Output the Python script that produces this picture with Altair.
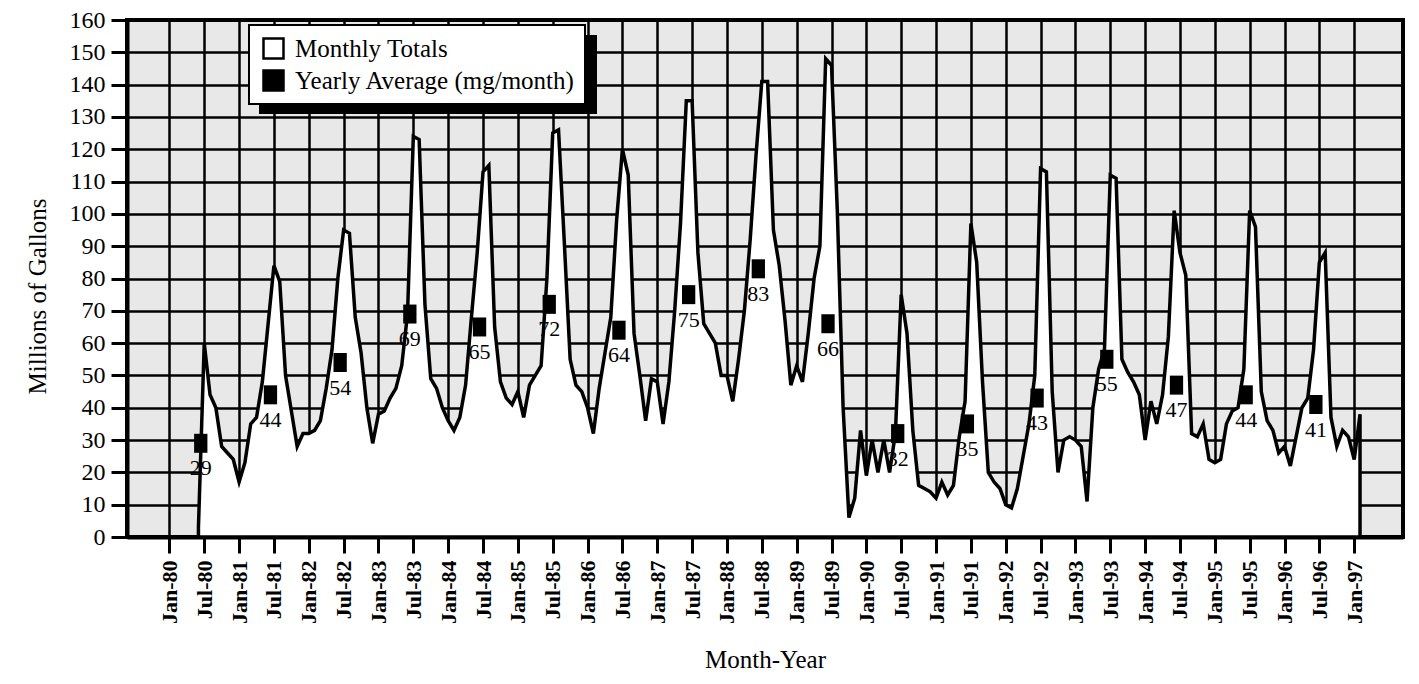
import altair as alt
import pandas as pd

FONT = "Liberation Serif"

series_names = ["Monthly Totals", "Yearly Average (mg/month)"]

# month index: Jan-80 = 0 ; monthly totals start in Jun-80
first_month = 5
monthly_1980 = [3, 60, 44, 40, 28, 26, 24]                       # Jun-Dec
monthly_1981 = [17, 23, 35, 37, 48, 66, 84, 79, 50, 39, 28, 32]
monthly_1982 = [32, 33, 36, 46, 58, 80, 95, 94, 68, 57, 40, 29]
monthly_1983 = [38, 39, 43, 46, 53, 69, 124, 123, 72, 49, 46, 40]
monthly_1984 = [36, 33, 37, 47, 68, 88, 113, 115, 65, 48, 43, 41]
monthly_1985 = [45, 37, 47, 50, 53, 80, 125, 126, 91, 55, 47, 45]
monthly_1986 = [40, 32, 46, 57, 68, 98, 120, 112, 63, 50, 36, 49]
monthly_1987 = [48, 35, 48, 70, 97, 135, 135, 88, 66, 63, 60, 50]
monthly_1988 = [50, 42, 55, 70, 92, 118, 141, 141, 95, 84, 67, 47]
monthly_1989 = [53, 48, 63, 80, 90, 148, 146, 101, 40, 6, 12, 33]
monthly_1990 = [19, 30, 20, 30, 20, 32, 75, 63, 33, 16, 15, 14]
monthly_1991 = [12, 17, 13, 16, 31, 42, 97, 85, 48, 20, 17, 15]
monthly_1992 = [10, 9, 15, 25, 35, 50, 114, 113, 45, 20, 30, 31]
monthly_1993 = [30, 28, 11, 40, 52, 58, 112, 111, 55, 51, 48, 44]
monthly_1994 = [30, 42, 35, 44, 62, 101, 88, 81, 32, 31, 35, 24]
monthly_1995 = [23, 24, 35, 39, 40, 52, 101, 96, 45, 36, 33, 26]
monthly_1996 = [28, 22, 31, 40, 43, 58, 85, 88, 37, 28, 33, 31]
monthly_1997 = [24, 38]

yearly_years = list(range(1980, 1997))
yearly_average = [29, 44, 54, 69, 65, 72, 64, 75, 83, 66, 32, 35, 43, 55, 47, 44, 41]

tick_months = list(range(0, 205, 6))
tick_labels = [("Jan-" if m % 12 == 0 else "Jul-") + str(80 + m // 12) for m in tick_months]
y_ticks = list(range(0, 161, 10))

monthly = (monthly_1980 + monthly_1981 + monthly_1982 + monthly_1983 + monthly_1984 +
           monthly_1985 + monthly_1986 + monthly_1987 + monthly_1988 + monthly_1989 +
           monthly_1990 + monthly_1991 + monthly_1992 + monthly_1993 + monthly_1994 +
           monthly_1995 + monthly_1996 + monthly_1997)
months = [first_month + i for i in range(len(monthly))]

df = pd.DataFrame({"month": months, "gallons": monthly, "series": series_names[0]})
avg_df = pd.DataFrame({
    "month": [(y - 1980) * 12 + 5.4 for y in yearly_years],
    "avg": yearly_average,
    "label": [str(v) for v in yearly_average],
    "series": series_names[1],
})
one = pd.DataFrame({"k": [0]})

x_scale = alt.Scale(domain=[-7.3, 212.4], nice=False, zero=False)
y_scale = alt.Scale(domain=[0, 160], nice=False)
fill_scale = alt.Scale(domain=series_names, range=["white", "black"])

label_expr = "[" + ",".join("'%s'" % l for l in tick_labels) + "][round(datum.value / 6)]"

x_axis = alt.Axis(
    values=tick_months, labelExpr=label_expr, labelAngle=270,
    labelAlign="right", labelBaseline="middle",
    labelFont=FONT, labelFontSize=22, labelFontWeight="bold", labelColor="black",
    labelPadding=7, labelOverlap=False, labelFlush=False,
    grid=True, gridColor="black", gridWidth=2.5, gridOpacity=1,
    ticks=True, tickSize=16, tickWidth=3, tickColor="black",
    domain=True, domainColor="black", domainWidth=4,
    title="Month-Year", titleFont=FONT, titleFontSize=25, titleFontWeight="normal",
    titleColor="black", titlePadding=24,
)
y_axis = alt.Axis(
    values=y_ticks, labelFont=FONT, labelFontSize=24, labelColor="black",
    labelPadding=6, labelOverlap=False, labelFlush=False,
    grid=True, gridColor="black", gridWidth=2.5, gridOpacity=1,
    ticks=True, tickSize=16, tickWidth=3, tickColor="black",
    domain=True, domainColor="black", domainWidth=4,
    title="Millions of Gallons", titleFont=FONT, titleFontSize=25,
    titleFontWeight="normal", titleColor="black",
    titleAngle=270, titleX=-90, titleY=276, titleAlign="center", titleBaseline="middle",
)

legend = alt.Legend(
    title=None, orient="none", legendX=134, legendY=16,
    symbolType="square", symbolSize=400, symbolStrokeColor="black",
    symbolStrokeWidth=2.5, symbolOpacity=1,
    labelFont=FONT, labelFontSize=25, labelColor="black", labelLimit=0,
    labelOffset=9, rowPadding=1, padding=0,
)

X = alt.X("month:Q", scale=x_scale, axis=x_axis)

area = alt.Chart(df).mark_area(
    stroke="black", strokeWidth=3.5, interpolate="linear", opacity=1, fillOpacity=1
).encode(
    x=X,
    y=alt.Y("gallons:Q", scale=y_scale, axis=y_axis),
    fill=alt.Fill("series:N", scale=fill_scale, legend=legend),
)

squares = alt.Chart(avg_df).mark_point(
    filled=True, shape="M-0.7,-1H0.7V1H-0.7Z", size=361, opacity=1, strokeWidth=0
).encode(
    x=X,
    y=alt.Y("avg:Q", scale=y_scale, axis=y_axis),
    fill=alt.Fill("series:N", scale=fill_scale, legend=legend),
)

labels = alt.Chart(avg_df).mark_text(
    dy=25, font=FONT, fontSize=22, color="black"
).encode(
    x=X,
    y=alt.Y("avg:Q", scale=y_scale, axis=y_axis),
    text="label:N",
)

shadow = alt.Chart(one).mark_rect(color="black").encode(
    x=alt.value(132), x2=alt.value(470), y=alt.value(15), y2=alt.value(94)
)
box = alt.Chart(one).mark_rect(fill="white", stroke="black", strokeWidth=2).encode(
    x=alt.value(122), x2=alt.value(458), y=alt.value(5), y2=alt.value(84)
)

chart = alt.layer(area, squares, labels, shadow, box).properties(
    width=1276, height=517,
    autosize=alt.AutoSizeParams(type="none"),
    padding={"left": 119, "top": 12, "right": 8, "bottom": 140},
    background="white",
).configure_view(
    fill="#e8e8e8", stroke="black", strokeWidth=4
)

chart.save("out.html", embed_options={"renderer": "svg", "actions": False})
